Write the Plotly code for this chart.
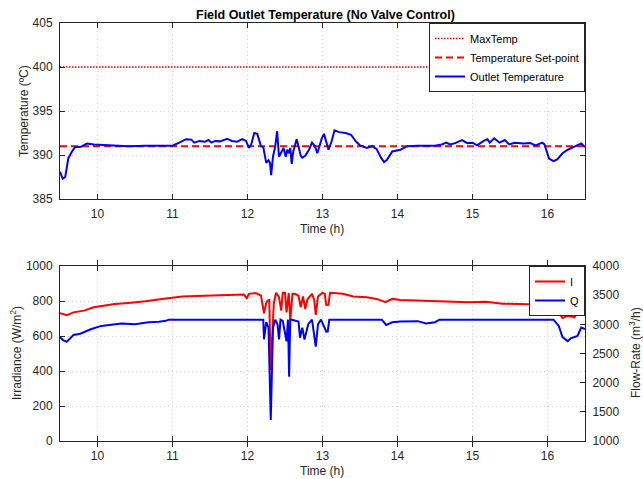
import plotly.graph_objects as go

# ---------------- data ----------------
temp_time = [9.50, 9.536, 9.57, 9.59, 9.61, 9.66, 9.70, 9.77, 9.86, 9.95, 10.18, 10.41, 10.64, 10.86, 11.00,
             11.09, 11.18, 11.25, 11.29, 11.36, 11.43, 11.48, 11.52, 11.57, 11.63, 11.73, 11.79, 11.86, 11.93,
             11.98, 12.02, 12.05, 12.09, 12.13, 12.18, 12.21, 12.25, 12.28, 12.30, 12.315, 12.34, 12.37, 12.395,
             12.42, 12.45, 12.48, 12.51, 12.53, 12.55, 12.57, 12.59, 12.61, 12.63, 12.655, 12.68, 12.71, 12.73,
             12.77, 12.82, 12.86, 12.90, 12.93, 12.96, 12.99, 13.02, 13.05, 13.08, 13.12, 13.16, 13.22, 13.31,
             13.38, 13.45, 13.50, 13.59, 13.66, 13.72, 13.78, 13.82, 13.86, 13.93, 14.04, 14.13, 14.27, 14.50,
             14.59, 14.65, 14.70, 14.77, 14.86, 14.93, 15.00, 15.06, 15.15, 15.20, 15.23, 15.29, 15.36, 15.43,
             15.49, 15.56, 15.68, 15.77, 15.84, 15.93, 15.96, 16.02, 16.08, 16.13, 16.20, 16.27, 16.36, 16.45, 16.50]
temp_vals = [388.1, 387.3, 387.5, 388.9, 389.6, 390.4, 390.9, 390.9, 391.3, 391.2, 391.1, 391.0, 391.05, 391.05, 391.05,
             391.4, 391.8, 391.75, 391.4, 391.6, 391.5, 391.7, 391.4, 391.6, 391.55, 391.85, 391.6, 391.5, 391.8,
             391.6, 390.8, 391.2, 392.5, 392.4, 391.0, 390.9, 389.1, 389.4, 389.1, 387.7, 389.8, 391.0, 392.7,
             389.8, 390.3, 390.8, 389.8, 390.6, 390.2, 390.8, 389.0, 390.4, 391.0, 391.8, 391.0, 389.9, 389.7,
             389.9, 390.6, 391.4, 391.0, 390.2, 391.0, 391.9, 392.4, 391.6, 390.6, 391.5, 392.8, 392.6, 392.5,
             392.3, 391.5, 391.1, 390.8, 391.0, 390.7, 389.7, 389.2, 389.45, 390.4, 390.6, 391.0, 391.05, 391.05,
             391.2, 391.4, 391.2, 391.35, 391.7, 391.35, 391.4, 391.1, 391.6, 391.8, 391.4, 391.9, 391.4, 391.7,
             391.2, 391.4, 391.3, 391.35, 391.1, 391.4, 391.2, 389.6, 389.3, 389.5, 390.2, 390.6, 390.95, 391.3, 390.9]
set_point = 391.0
max_temp = 400.0

irr_time = [9.50, 9.59, 9.68, 9.82, 9.95, 10.09, 10.23, 10.41, 10.64, 10.86, 11.00, 11.13, 11.32, 11.55, 11.77,
            11.95, 11.99, 12.02, 12.11, 12.18, 12.22, 12.25, 12.27, 12.29, 12.31, 12.35, 12.38, 12.42, 12.45,
            12.47, 12.50, 12.52, 12.55, 12.57, 12.60, 12.63, 12.68, 12.71, 12.74, 12.77, 12.80, 12.86, 12.89,
            12.91, 12.94, 13.00, 13.03, 13.05, 13.08, 13.10, 13.27, 13.41, 13.59, 13.72, 13.84, 13.93, 14.04,
            14.27, 14.50, 14.72, 14.95, 15.18, 15.40, 15.63, 15.86, 16.04, 16.15, 16.20, 16.27, 16.36, 16.42, 16.50]
irr_vals = [730, 719, 735, 745, 764, 773, 783, 789, 798, 812, 818, 826, 828, 831, 835,
            837, 816, 841, 845, 831, 730, 790, 802, 806, 406, 783, 847, 822, 745,
            847, 847, 735, 845, 691, 841, 841, 830, 764, 826, 754, 810, 841, 806,
            720, 826, 847, 841, 777, 778, 847, 841, 826, 822, 812, 793, 812, 806,
            802, 798, 795, 793, 796, 785, 783, 780, 764, 735, 703, 715, 706, 745, 733]

flow_time = [9.50, 9.54, 9.59, 9.68, 9.77, 9.91, 10.05, 10.18, 10.32, 10.50, 10.68, 10.82, 10.91, 10.95,
             12.21, 12.22, 12.25, 12.28, 12.31, 12.34, 12.37, 12.40, 12.42, 12.44, 12.47, 12.52, 12.54, 12.555,
             12.57, 12.59, 12.68, 12.70, 12.73, 12.76, 12.81, 12.86, 12.91, 12.94, 12.98, 13.05, 13.07, 13.09,
             13.79, 13.85, 13.93, 14.04, 14.27, 14.38, 14.50, 14.56, 16.08, 16.15, 16.20, 16.27, 16.31, 16.40,
             16.45, 16.50]
flow_vals = [2780, 2730, 2700, 2817, 2840, 2915, 2973, 2990, 3013, 3000, 3036, 3045, 3060, 3080,
             3080, 2743, 3036, 2944, 1360, 2944, 3080, 3000, 2743, 3080, 3060, 2710, 3080, 2102,
             3080, 3080, 3048, 2770, 2944, 2740, 3002, 3080, 2616, 3002, 3080, 2873, 2875, 3080,
             3080, 2990, 3036, 3048, 3055, 3013, 3036, 3080, 3080, 2973, 2780, 2712, 2760, 2800,
             2944, 2920]

x_ticks = [10, 11, 12, 13, 14, 15, 16]
x_range = [9.5, 16.5]
temp_range = [385, 405]
irr_range = [0, 1000]
flow_range = [1000, 4000]

# ---------------- figure ----------------
W, H = 643, 479
FONT = "Liberation Sans, Arial, Helvetica, sans-serif"
AX = "#262626"
GRID = "#d0d0d0"
BLUE = "#0000ff"
RED = "#ff0000"

def px_x(p):
    return p / W

def px_y(p):
    return 1 - p / H

xdom = [px_x(60), px_x(585)]
top_dom = [px_y(199), px_y(23)]
bot_dom = [px_y(441), px_y(266)]

fig = go.Figure()

fig.add_trace(go.Scatter(x=[temp_time[0], temp_time[-1]], y=[max_temp, max_temp], mode="lines",
                         name="MaxTemp", line=dict(color=RED, width=1.5, dash="1.5px,1.5px"),
                         xaxis="x", yaxis="y", legend="legend"))
fig.add_trace(go.Scatter(x=[temp_time[0], temp_time[-1]], y=[set_point, set_point], mode="lines",
                         name="Temperature Set-point", line=dict(color=RED, width=2, dash="7px,4px"),
                         xaxis="x", yaxis="y", legend="legend"))
fig.add_trace(go.Scatter(x=temp_time, y=temp_vals, mode="lines", name="Outlet Temperature",
                         line=dict(color=BLUE, width=2), xaxis="x", yaxis="y", legend="legend"))

fig.add_trace(go.Scatter(x=irr_time, y=irr_vals, mode="lines", name="I",
                         line=dict(color=RED, width=2), xaxis="x2", yaxis="y3", legend="legend2"))
fig.add_trace(go.Scatter(x=flow_time, y=flow_vals, mode="lines", name="Q",
                         line=dict(color=BLUE, width=2), xaxis="x2", yaxis="y4", legend="legend2"))

common_x = dict(range=x_range, tickvals=x_ticks, ticktext=[str(t) for t in x_ticks], ticks="inside",
                ticklen=5, tickcolor=AX, showline=True, linecolor=AX, linewidth=1, mirror="allticks",
                showgrid=True, gridcolor=GRID, griddash="1px,3px", gridwidth=1, zeroline=False,
                tickfont=dict(family=FONT, size=12, color=AX), domain=xdom, automargin=False,
                ticklabelstandoff=4)
common_y = dict(ticks="inside", ticklen=5, tickcolor=AX, showline=True, linecolor=AX, linewidth=1,
                showgrid=True, gridcolor=GRID, griddash="1px,3px", gridwidth=1, zeroline=False,
                tickfont=dict(family=FONT, size=12, color=AX), automargin=False, ticklabelstandoff=4)

fig.update_layout(
    width=W, height=H, margin=dict(l=0, r=0, t=0, b=0),
    paper_bgcolor="white", plot_bgcolor="white",
    font=dict(family=FONT, size=12, color=AX),
    xaxis=dict(common_x, anchor="y"),
    yaxis=dict(common_y, range=temp_range, dtick=5, domain=top_dom, anchor="x", mirror="allticks"),
    xaxis2=dict(common_x, anchor="y3"),
    yaxis3=dict(common_y, range=irr_range, dtick=200, domain=bot_dom, anchor="x2", mirror=False),
    yaxis4=dict(common_y, range=flow_range, dtick=500, overlaying="y3", side="right", anchor="x2",
                showgrid=False, mirror=False),
    legend=dict(x=xdom[1], xanchor="right", y=top_dom[1], yanchor="top", bgcolor="white",
                bordercolor=AX, borderwidth=1, font=dict(family=FONT, size=11, color="black"),
                itemwidth=30, tracegroupgap=0),
    legend2=dict(x=xdom[1], xanchor="right", y=bot_dom[1], yanchor="top", bgcolor="white",
                 bordercolor=AX, borderwidth=1, font=dict(family=FONT, size=11, color="black"),
                 itemwidth=30, tracegroupgap=0),
    showlegend=True,
)

annos = [
    dict(text="<b>Field Outlet Temperature (No Valve Control)</b>", x=px_x(325), y=px_y(15),
         font=dict(size=12.5, color="black")),
    dict(text="Time (h)", x=px_x(322), y=px_y(229), font=dict(size=12, color=AX)),
    dict(text="Time (h)", x=px_x(322), y=px_y(471), font=dict(size=12, color=AX)),
    dict(text="Temperature (ºC)", x=px_x(24), y=px_y(111), textangle=-90, font=dict(size=12, color=AX)),
    dict(text="Irradiance (W/m<sup>2</sup>)", x=px_x(16), y=px_y(353), textangle=-90,
         font=dict(size=12, color=AX)),
    dict(text="Flow-Rate (m<sup>3</sup>/h)", x=px_x(635), y=px_y(353), textangle=-90,
         font=dict(size=12, color=AX)),
]
for a in annos:
    fig.add_annotation(xref="paper", yref="paper", showarrow=False, xanchor="center", yanchor="middle",
                       font_family=FONT, **{k: v for k, v in a.items()})

fig.write_html("out.html")
